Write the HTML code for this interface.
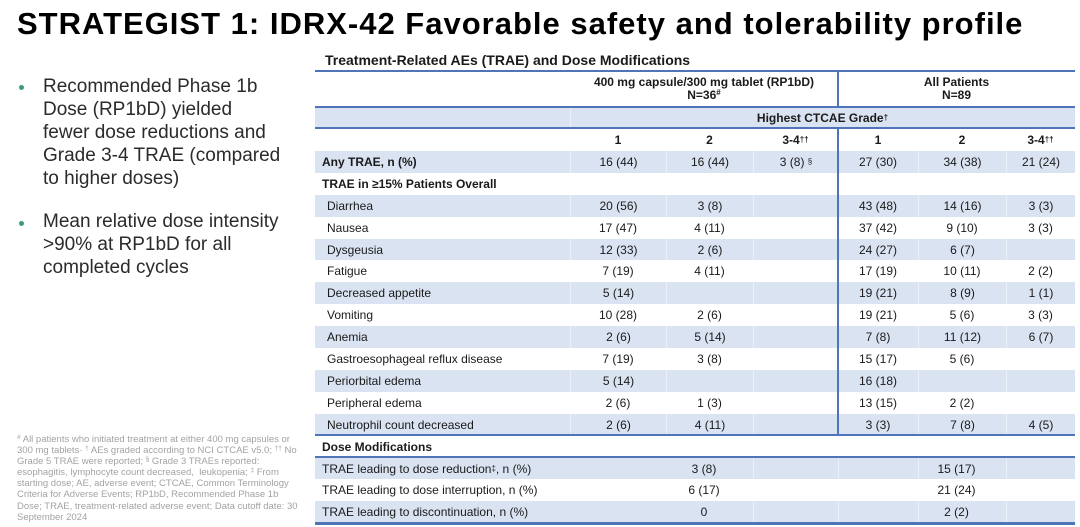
<!DOCTYPE html>
<html>
<head>
<meta charset="utf-8">
<style>
*{margin:0;padding:0;box-sizing:border-box}
html,body{width:1080px;height:527px;background:#fff;overflow:hidden}
body{position:relative;font-family:"Liberation Sans",Arial,sans-serif;color:#1a1a1a}
.abs{position:absolute}
.title{left:17px;top:6px;font-weight:bold;font-size:31px;line-height:36px;letter-spacing:1px;white-space:nowrap;color:#000}
.bul{left:43px;font-size:19px;line-height:22.9px;color:#2b2b2b;white-space:nowrap}
.dot{width:5px;height:5px;border-radius:50%;background:#3b9a7b}
.foot{left:17px;top:434px;font-size:9.5px;line-height:11.1px;color:#a3a3a3;white-space:nowrap}
.foot sup{font-size:6.5px;vertical-align:3px;line-height:0}
.ttl{left:325px;top:52px;font-weight:bold;font-size:14px;line-height:16px;white-space:nowrap}
.row{position:absolute;left:315px;width:760px}
.sh{background:#dae3f1}
.cell{position:absolute;top:0;bottom:0;display:flex;align-items:center;justify-content:center;font-size:12px;white-space:nowrap}
.x1{left:255px;width:96px}
.x2{left:351px;width:87px}
.x3{left:438px;width:85px}
.x4{left:523px;width:80px}
.x5{left:603px;width:88px}
.x6{left:691px;width:69px}
.m1{left:255px;width:268px}
.m2{left:523px;width:237px}
.sh .x1,.sh .x2,.sh .x3,.sh .x5,.sh .x6,.sh .dv{border-left:1px solid #eaeff8}
.dv{position:absolute;top:0;bottom:0;width:1px}
.lab{position:absolute;left:12px;top:0;bottom:0;display:flex;align-items:center;font-size:12px;white-space:nowrap}
.lab.b{left:7px;font-weight:bold}
.lab.d{left:7px}
.b{font-weight:bold}
.hl{position:absolute;left:315px;width:760px;background:#4f74b8}
.vl{position:absolute;left:837px;width:2px;background:#4f74b8}
sup.s{font-size:8px;vertical-align:4px;line-height:0}
.hd{position:absolute;top:76px;font-size:12px;line-height:13px;font-weight:bold;text-align:center;white-space:nowrap}
</style>
</head>
<body>

<div class="abs title">STRATEGIST 1: IDRX-42 Favorable safety and tolerability profile</div>

<div class="abs dot" style="left:19px;top:85px"></div>
<div class="abs bul" style="top:76px">Recommended Phase 1b<br>Dose (RP1bD) yielded<br>fewer dose reductions and<br>Grade 3-4 TRAE (compared<br>to higher doses)</div>

<div class="abs dot" style="left:19px;top:221px"></div>
<div class="abs bul" style="top:211px">Mean relative dose intensity<br>&gt;90% at RP1bD for all<br>completed cycles</div>

<div class="abs foot"><sup>#</sup> All patients who initiated treatment at either 400 mg capsules or<br>300 mg tablets· <sup>†</sup> AEs graded according to NCI CTCAE v5.0; <sup>††</sup> No<br>Grade 5 TRAE were reported; <sup>§</sup> Grade 3 TRAEs reported:<br>esophagitis, lymphocyte count decreased,&nbsp; leukopenia; <sup>‡</sup> From<br>starting dose; AE, adverse event; CTCAE, Common Terminology<br>Criteria for Adverse Events; RP1bD, Recommended Phase 1b<br>Dose; TRAE, treatment-related adverse event; Data cutoff date: 30<br>September 2024</div>

<div class="abs ttl">Treatment-Related AEs (TRAE) and Dose Modifications</div>

<!-- header -->
<div class="hd" style="left:570px;width:268px">400 mg capsule/300 mg tablet (RP1bD)<br>N=36<sup class="s">#</sup></div>
<div class="hd" style="left:838px;width:237px">All Patients<br>N=89</div>

<div class="row sh" style="top:108px;height:20px">
  <div class="dv" style="left:255px"></div>
  <div class="cell m1 b" style="left:255px;width:505px;border:none">Highest CTCAE Grade<sup class="s">†</sup></div>
</div>

<div class="row" style="top:129px;height:22px">
  <div class="cell x1 b">1</div><div class="cell x2 b">2</div><div class="cell x3 b">3-4<sup class="s">††</sup></div>
  <div class="cell x4 b">1</div><div class="cell x5 b">2</div><div class="cell x6 b">3-4<sup class="s">††</sup></div>
</div>

<div class="row sh" style="top:151px;height:22px">
  <div class="lab b">Any TRAE, n (%)</div>
  <div class="cell x1">16 (44)</div><div class="cell x2">16 (44)</div><div class="cell x3">3 (8)&nbsp;<sup class="s">§</sup></div>
  <div class="cell x4">27 (30)</div><div class="cell x5">34 (38)</div><div class="cell x6">21 (24)</div>
</div>

<div class="row" style="top:173px;height:22px">
  <div class="lab b">TRAE in ≥15% Patients Overall</div>
</div>

<div class="row sh" style="top:195px;height:22px">
  <div class="lab">Diarrhea</div>
  <div class="cell x1">20 (56)</div><div class="cell x2">3 (8)</div><div class="cell x3"></div>
  <div class="cell x4">43 (48)</div><div class="cell x5">14 (16)</div><div class="cell x6">3 (3)</div>
</div>

<div class="row" style="top:217px;height:22px">
  <div class="lab">Nausea</div>
  <div class="cell x1">17 (47)</div><div class="cell x2">4 (11)</div><div class="cell x3"></div>
  <div class="cell x4">37 (42)</div><div class="cell x5">9 (10)</div><div class="cell x6">3 (3)</div>
</div>

<div class="row sh" style="top:239px;height:21px">
  <div class="lab">Dysgeusia</div>
  <div class="cell x1">12 (33)</div><div class="cell x2">2 (6)</div><div class="cell x3"></div>
  <div class="cell x4">24 (27)</div><div class="cell x5">6 (7)</div><div class="cell x6"></div>
</div>

<div class="row" style="top:260px;height:22px">
  <div class="lab">Fatigue</div>
  <div class="cell x1">7 (19)</div><div class="cell x2">4 (11)</div><div class="cell x3"></div>
  <div class="cell x4">17 (19)</div><div class="cell x5">10 (11)</div><div class="cell x6">2 (2)</div>
</div>

<div class="row sh" style="top:282px;height:22px">
  <div class="lab">Decreased appetite</div>
  <div class="cell x1">5 (14)</div><div class="cell x2"></div><div class="cell x3"></div>
  <div class="cell x4">19 (21)</div><div class="cell x5">8 (9)</div><div class="cell x6">1 (1)</div>
</div>

<div class="row" style="top:304px;height:22px">
  <div class="lab">Vomiting</div>
  <div class="cell x1">10 (28)</div><div class="cell x2">2 (6)</div><div class="cell x3"></div>
  <div class="cell x4">19 (21)</div><div class="cell x5">5 (6)</div><div class="cell x6">3 (3)</div>
</div>

<div class="row sh" style="top:326px;height:22px">
  <div class="lab">Anemia</div>
  <div class="cell x1">2 (6)</div><div class="cell x2">5 (14)</div><div class="cell x3"></div>
  <div class="cell x4">7 (8)</div><div class="cell x5">11 (12)</div><div class="cell x6">6 (7)</div>
</div>

<div class="row" style="top:348px;height:22px">
  <div class="lab">Gastroesophageal reflux disease</div>
  <div class="cell x1">7 (19)</div><div class="cell x2">3 (8)</div><div class="cell x3"></div>
  <div class="cell x4">15 (17)</div><div class="cell x5">5 (6)</div><div class="cell x6"></div>
</div>

<div class="row sh" style="top:370px;height:22px">
  <div class="lab">Periorbital edema</div>
  <div class="cell x1">5 (14)</div><div class="cell x2"></div><div class="cell x3"></div>
  <div class="cell x4">16 (18)</div><div class="cell x5"></div><div class="cell x6"></div>
</div>

<div class="row" style="top:392px;height:22px">
  <div class="lab">Peripheral edema</div>
  <div class="cell x1">2 (6)</div><div class="cell x2">1 (3)</div><div class="cell x3"></div>
  <div class="cell x4">13 (15)</div><div class="cell x5">2 (2)</div><div class="cell x6"></div>
</div>

<div class="row sh" style="top:414px;height:21px">
  <div class="lab">Neutrophil count decreased</div>
  <div class="cell x1">2 (6)</div><div class="cell x2">4 (11)</div><div class="cell x3"></div>
  <div class="cell x4">3 (3)</div><div class="cell x5">7 (8)</div><div class="cell x6">4 (5)</div>
</div>

<div class="row" style="top:436px;height:21px">
  <div class="lab b">Dose Modifications</div>
</div>

<div class="row sh" style="top:458px;height:21px">
  <div class="lab d">TRAE leading to dose reduction<sup class="s">‡</sup>, n (%)</div>
  <div class="dv" style="left:438px"></div><div class="dv" style="left:523px"></div><div class="dv" style="left:603px"></div><div class="dv" style="left:691px"></div>
  <div class="cell m1">3 (8)</div><div class="cell m2">15 (17)</div>
</div>

<div class="row" style="top:479px;height:22px">
  <div class="lab d">TRAE leading to dose interruption, n (%)</div>
  <div class="cell m1">6 (17)</div><div class="cell m2">21 (24)</div>
</div>

<div class="row sh" style="top:501px;height:21px">
  <div class="lab d">TRAE leading to discontinuation, n (%)</div>
  <div class="dv" style="left:438px"></div><div class="dv" style="left:523px"></div><div class="dv" style="left:603px"></div><div class="dv" style="left:691px"></div>
  <div class="cell m1">0</div><div class="cell m2">2 (2)</div>
</div>

<!-- lines -->
<div class="hl" style="top:70px;height:2px"></div>
<div class="hl" style="top:106px;height:2px"></div>
<div class="hl" style="top:127px;height:2px"></div>
<div class="hl" style="top:434px;height:2px"></div>
<div class="hl" style="top:456px;height:2px"></div>
<div class="hl" style="top:522px;height:3px"></div>
<div class="vl" style="top:71px;height:36px"></div>
<div class="vl" style="top:128px;height:307px"></div>

</body>
</html>
